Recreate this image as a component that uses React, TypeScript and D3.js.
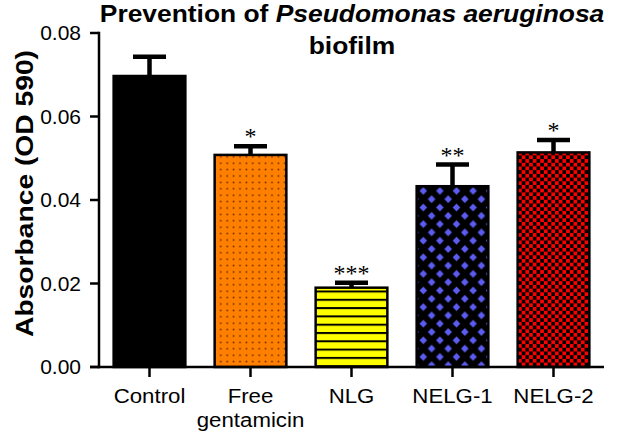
import { useEffect, useRef } from 'react';
import * as d3 from 'd3';

const categories = ['Control', 'Free gentamicin', 'NLG', 'NELG-1', 'NELG-2'];
const labelLines = [['Control'], ['Free', 'gentamicin'], ['NLG'], ['NELG-1'], ['NELG-2']];
const means = [0.0697, 0.0508, 0.019, 0.0433, 0.0514];
const errors = [0.0046, 0.0021, 0.0012, 0.0052, 0.003];
const stars = ['', '*', '***', '**', '*'];
const yTicks = [0, 0.02, 0.04, 0.06, 0.08];
const fills = ['#000000', 'url(#dots)', 'url(#stripes)', 'url(#diamonds)', 'url(#checks)'];

export default function App() {
  const svgRef = useRef<SVGSVGElement>(null);
  const width = 618;
  const height = 434;

  useEffect(() => {
    if (!svgRef.current) return;
    document.body.style.margin = '0';

    const svg = d3.select(svgRef.current);
    svg.selectAll('*').remove();

    const x0 = 99, x1 = 604, yBase = 367, yTop = 33;

    const xScale = d3.scaleBand<string>()
      .domain(categories)
      .range([x0, x1])
      .paddingInner(0.29)
      .paddingOuter(0.145);

    const yScale = d3.scaleLinear()
      .domain([0, 0.08])
      .range([yBase, yTop]);

    // Patterns
    const defs = svg.append('defs');

    const dots = defs.append('pattern')
      .attr('id', 'dots').attr('patternUnits', 'userSpaceOnUse')
      .attr('width', 6.4).attr('height', 6.4);
    dots.append('rect').attr('width', 6.4).attr('height', 6.4).attr('fill', '#ff8000');
    dots.append('circle').attr('cx', 3.2).attr('cy', 3.2).attr('r', 0.9).attr('fill', '#6a2a00');

    const stripes = defs.append('pattern')
      .attr('id', 'stripes').attr('patternUnits', 'userSpaceOnUse')
      .attr('width', 10).attr('height', 8.3);
    stripes.append('rect').attr('width', 10).attr('height', 8.3).attr('fill', '#ffff00');
    stripes.append('rect').attr('y', 0).attr('width', 10).attr('height', 2).attr('fill', '#000');

    const dia = 16.6;
    const diamonds = defs.append('pattern')
      .attr('id', 'diamonds').attr('patternUnits', 'userSpaceOnUse')
      .attr('width', dia).attr('height', dia);
    diamonds.append('rect').attr('width', dia).attr('height', dia).attr('fill', '#000');
    const r = 3.8;
    const diamondPath = (cx: number, cy: number) =>
      `M${cx},${cy - r}L${cx + r},${cy}L${cx},${cy + r}L${cx - r},${cy}Z`;
    [[0, 0], [dia, 0], [0, dia], [dia, dia], [dia / 2, dia / 2]].forEach(([cx, cy]) => {
      diamonds.append('path').attr('d', diamondPath(cx, cy)).attr('fill', '#5c5cf2');
    });

    const ck = 7.4;
    const checks = defs.append('pattern')
      .attr('id', 'checks').attr('patternUnits', 'userSpaceOnUse')
      .attr('width', ck).attr('height', ck);
    checks.append('rect').attr('width', ck).attr('height', ck).attr('fill', '#ff0000');
    checks.append('rect').attr('x', 0).attr('y', 0).attr('width', ck / 2).attr('height', ck / 2).attr('fill', '#000');
    checks.append('rect').attr('x', ck / 2).attr('y', ck / 2).attr('width', ck / 2).attr('height', ck / 2).attr('fill', '#000');

    const g = svg.append('g');

    // Error bars (upper only)
    const capHalf = 16.5;
    g.selectAll('line.stem')
      .data(means)
      .enter()
      .append('line')
      .attr('class', 'stem')
      .attr('x1', (_, i) => (xScale(categories[i]) as number) + xScale.bandwidth() / 2)
      .attr('x2', (_, i) => (xScale(categories[i]) as number) + xScale.bandwidth() / 2)
      .attr('y1', d => yScale(d))
      .attr('y2', (d, i) => yScale(d + errors[i]))
      .attr('stroke', '#000')
      .attr('stroke-width', 4.5);

    g.selectAll('line.cap')
      .data(means)
      .enter()
      .append('line')
      .attr('class', 'cap')
      .attr('x1', (_, i) => (xScale(categories[i]) as number) + xScale.bandwidth() / 2 - capHalf)
      .attr('x2', (_, i) => (xScale(categories[i]) as number) + xScale.bandwidth() / 2 + capHalf)
      .attr('y1', (d, i) => yScale(d + errors[i]))
      .attr('y2', (d, i) => yScale(d + errors[i]))
      .attr('stroke', '#000')
      .attr('stroke-width', 4.5);

    // Bars
    g.selectAll('rect.bar')
      .data(means)
      .enter()
      .append('rect')
      .attr('class', 'bar')
      .attr('x', (_, i) => xScale(categories[i]) as number)
      .attr('y', d => yScale(d))
      .attr('width', xScale.bandwidth())
      .attr('height', d => yBase - yScale(d))
      .attr('fill', (_, i) => fills[i])
      .attr('stroke', '#000')
      .attr('stroke-width', 2.5);

    // Significance stars
    g.selectAll('text.star')
      .data(means)
      .enter()
      .append('text')
      .attr('class', 'star')
      .attr('x', (_, i) => (xScale(categories[i]) as number) + xScale.bandwidth() / 2)
      .attr('y', (d, i) => yScale(d + errors[i]) - 2)
      .attr('text-anchor', 'middle')
      .style('font-family', '"Liberation Serif", "DejaVu Serif", serif')
      .style('font-size', '24px')
      .text((_, i) => stars[i]);

    // Y axis
    g.append('line')
      .attr('x1', x0).attr('x2', x0)
      .attr('y1', yScale(0.08) - 1.2).attr('y2', yBase + 1.2)
      .attr('stroke', '#000').attr('stroke-width', 2.5);

    g.selectAll('line.ytick')
      .data(yTicks)
      .enter()
      .append('line')
      .attr('class', 'ytick')
      .attr('x1', x0 - 9).attr('x2', x0)
      .attr('y1', d => yScale(d)).attr('y2', d => yScale(d))
      .attr('stroke', '#000').attr('stroke-width', 2.5);

    g.selectAll('text.ylab')
      .data(yTicks)
      .enter()
      .append('text')
      .attr('class', 'ylab')
      .attr('transform', d => `translate(${x0 - 18},${yScale(d)}) scale(1.05,1)`)
      .attr('dy', '0.35em')
      .attr('text-anchor', 'end')
      .style('font-family', '"Liberation Sans", Arial, sans-serif')
      .style('font-size', '20px')
      .text(d => d3.format('.2f')(d));

    // X axis
    g.append('line')
      .attr('x1', x0 - 9).attr('x2', x1)
      .attr('y1', yBase).attr('y2', yBase)
      .attr('stroke', '#000').attr('stroke-width', 2.5);

    g.selectAll('line.xtick')
      .data(categories)
      .enter()
      .append('line')
      .attr('class', 'xtick')
      .attr('x1', d => (xScale(d) as number) + xScale.bandwidth() / 2)
      .attr('x2', d => (xScale(d) as number) + xScale.bandwidth() / 2)
      .attr('y1', yBase).attr('y2', yBase + 10)
      .attr('stroke', '#000').attr('stroke-width', 2.5);

    const xl = g.selectAll('text.xlab')
      .data(categories)
      .enter()
      .append('text')
      .attr('class', 'xlab')
      .attr('transform', d => `translate(${(xScale(d) as number) + xScale.bandwidth() / 2},${yBase + 36}) scale(1.06,1)`)
      .attr('text-anchor', 'middle')
      .style('font-family', '"Liberation Sans", Arial, sans-serif')
      .style('font-size', '21px');
    xl.selectAll('tspan')
      .data((_, i) => labelLines[i])
      .enter()
      .append('tspan')
      .attr('x', 0)
      .attr('y', (_, j) => j * 24)
      .text(t => t);

    // Y axis title
    svg.append('text')
      .attr('transform', `translate(33,${(50 + 337) / 2}) rotate(-90)`)
      .attr('text-anchor', 'middle')
      .attr('textLength', 287)
      .attr('lengthAdjust', 'spacingAndGlyphs')
      .style('font-family', '"Liberation Sans", Arial, sans-serif')
      .style('font-weight', 'bold')
      .style('font-size', '24px')
      .text('Absorbance (OD 590)');

    // Chart title
    const title = svg.append('g')
      .attr('transform', 'translate(352,0) scale(1.1,1)')
      .style('font-family', '"Liberation Sans", Arial, sans-serif')
      .style('font-weight', 'bold')
      .style('font-size', '24px');
    const line1 = title.append('text').attr('y', 22).attr('text-anchor', 'middle');
    line1.append('tspan').text('Prevention of ');
    line1.append('tspan').style('font-style', 'italic').text('Pseudomonas aeruginosa');
    title.append('text').attr('y', 54).attr('text-anchor', 'middle').text('biofilm');
  }, []);

  return (
    <div style={{ width, height, background: '#fff' }}>
      <svg ref={svgRef} width={width} height={height} style={{ display: 'block' }} />
    </div>
  );
}
